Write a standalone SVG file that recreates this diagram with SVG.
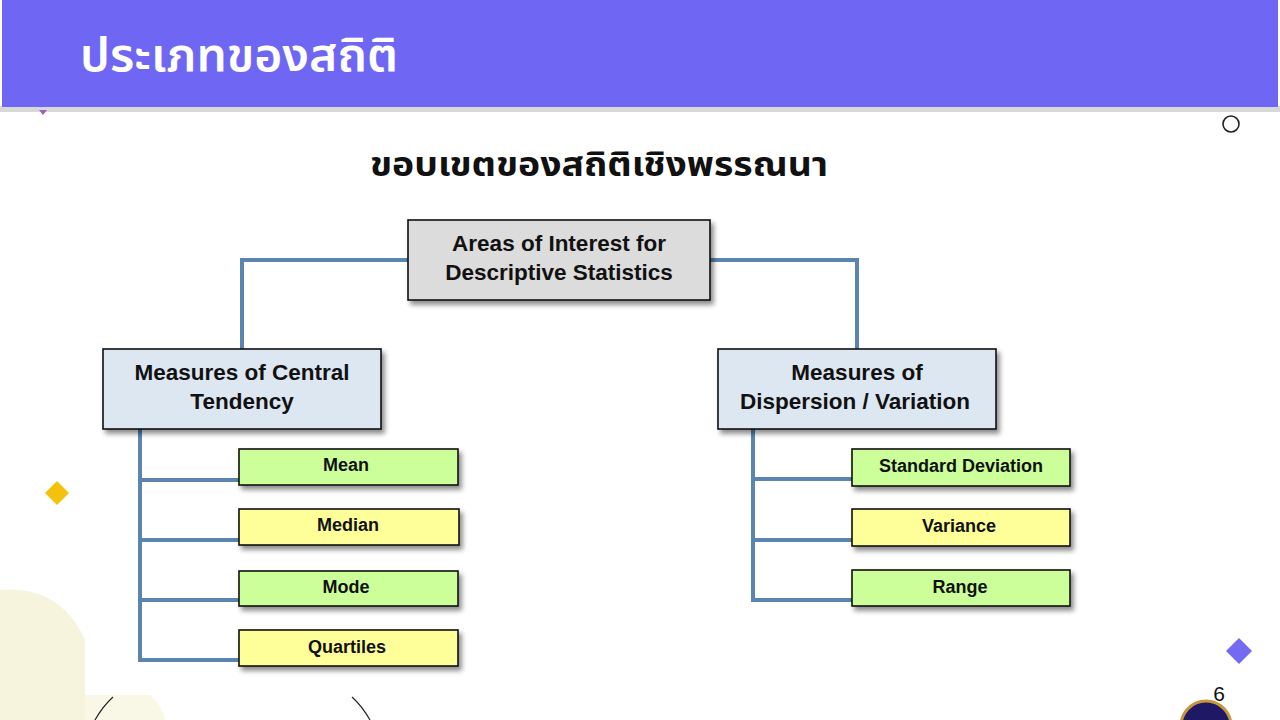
<svg xmlns="http://www.w3.org/2000/svg" width="1280" height="720" viewBox="0 0 1280 720">
<defs>
<filter id="sh" x="-10%" y="-20%" width="130%" height="160%">
<feDropShadow dx="3" dy="4" stdDeviation="2.5" flood-color="#000" flood-opacity="0.45"/>
</filter>
<style>
.box{stroke:#111;stroke-width:1.6;filter:url(#sh)}
.gray{fill:#dcdcdc}
.blue{fill:#dde7f1}
.green{fill:#ccff99}
.yellow{fill:#ffff99}
.t{font-family:"Liberation Sans",Arial,sans-serif;font-weight:bold;fill:#111;text-anchor:middle}
.big{font-size:22.5px}
.small{font-size:18px}
.conn{fill:none;stroke:#5b84b1;stroke-width:4;stroke-linejoin:miter}
.thai{font-family:"Noto Sans Thai","Noto Sans","DejaVu Sans",sans-serif}
</style>
</defs>
<rect width="1280" height="720" fill="#ffffff"/>
<!-- decorations -->
<path d="M0,590 Q60,585 85,640 L85,720 L0,720 Z" fill="#f6f4dc"/>
<path d="M85,695 L150,695 Q162,705 165,720 L85,720 Z" fill="#f9f8e6"/>
<path d="M95,720 Q103,706 113,697" fill="none" stroke="#222" stroke-width="1.2"/>
<path d="M352,697 Q362,706 370,720" fill="none" stroke="#222" stroke-width="1.2"/>
<polygon points="57,481 69,493 57,505 45,493" fill="#f4c20d"/>
<polygon points="1239,638 1252,651 1239,664 1226,651" fill="#7469f2"/>
<circle cx="1231" cy="124" r="8" fill="none" stroke="#222" stroke-width="1.6"/>
<text x="1219" y="701" font-family="Liberation Sans,Arial,sans-serif" font-size="21" fill="#111" text-anchor="middle">6</text>
<circle cx="1206" cy="726" r="25" fill="#1e1865" stroke="#c4953a" stroke-width="3"/>
<!-- header -->
<rect x="0" y="106" width="1280" height="6" fill="#d8d8d8"/>
<rect x="2" y="0" width="1276" height="107" fill="#6f67f4"/>
<polygon points="39,110 47,110 43,115" fill="#a060c0"/>
<text x="80" y="71" class="thai" font-size="46" font-weight="600" fill="#ffffff" textLength="318" lengthAdjust="spacingAndGlyphs">ประเภทของสถิติ</text>
<text x="370" y="176" class="thai" font-size="34" font-weight="bold" fill="#111" textLength="458" lengthAdjust="spacingAndGlyphs">ขอบเขตของสถิติเชิงพรรณนา</text>
<!-- connectors -->
<g id="connectors">
<path class="conn" d="M408,260 H242 V349"/>
<path class="conn" d="M710,260 H857 V349"/>
<path class="conn" d="M140,429 V660 H239"/>
<path class="conn" d="M140,480 H239"/>
<path class="conn" d="M140,540 H239"/>
<path class="conn" d="M140,600 H239"/>
<path class="conn" d="M753,429 V600 H852"/>
<path class="conn" d="M753,479 H852"/>
<path class="conn" d="M753,540 H852"/>
</g>
<!-- nodes -->
<g id="root">
<rect class="box gray" x="408" y="220" width="302" height="80"/>
<text class="t big" x="559" y="251">Areas of Interest for</text>
<text class="t big" x="559" y="280">Descriptive Statistics</text>
</g>
<g id="central">
<rect class="box blue" x="103" y="349" width="278" height="80"/>
<text class="t big" x="242" y="380">Measures of Central</text>
<text class="t big" x="242" y="409">Tendency</text>
</g>
<g id="dispersion">
<rect class="box blue" x="718" y="349" width="278" height="80"/>
<text class="t big" x="857" y="380">Measures of</text>
<text class="t big" x="855" y="409">Dispersion / Variation</text>
</g>
<g id="mean">
<rect class="box green" x="239" y="449" width="219" height="36"/>
<text class="t small" x="346" y="471">Mean</text>
</g>
<g id="median">
<rect class="box yellow" x="239" y="509" width="220" height="36"/>
<text class="t small" x="348" y="531">Median</text>
</g>
<g id="mode">
<rect class="box green" x="239" y="571" width="219" height="35"/>
<text class="t small" x="346" y="593">Mode</text>
</g>
<g id="quartiles">
<rect class="box yellow" x="239" y="630" width="219" height="36"/>
<text class="t small" x="347" y="653">Quartiles</text>
</g>
<g id="stddev">
<rect class="box green" x="852" y="449" width="218" height="37"/>
<text class="t small" x="961" y="472">Standard Deviation</text>
</g>
<g id="variance">
<rect class="box yellow" x="852" y="509" width="218" height="37"/>
<text class="t small" x="959" y="532">Variance</text>
</g>
<g id="range">
<rect class="box green" x="852" y="570" width="218" height="36"/>
<text class="t small" x="960" y="593">Range</text>
</g>
</svg>
